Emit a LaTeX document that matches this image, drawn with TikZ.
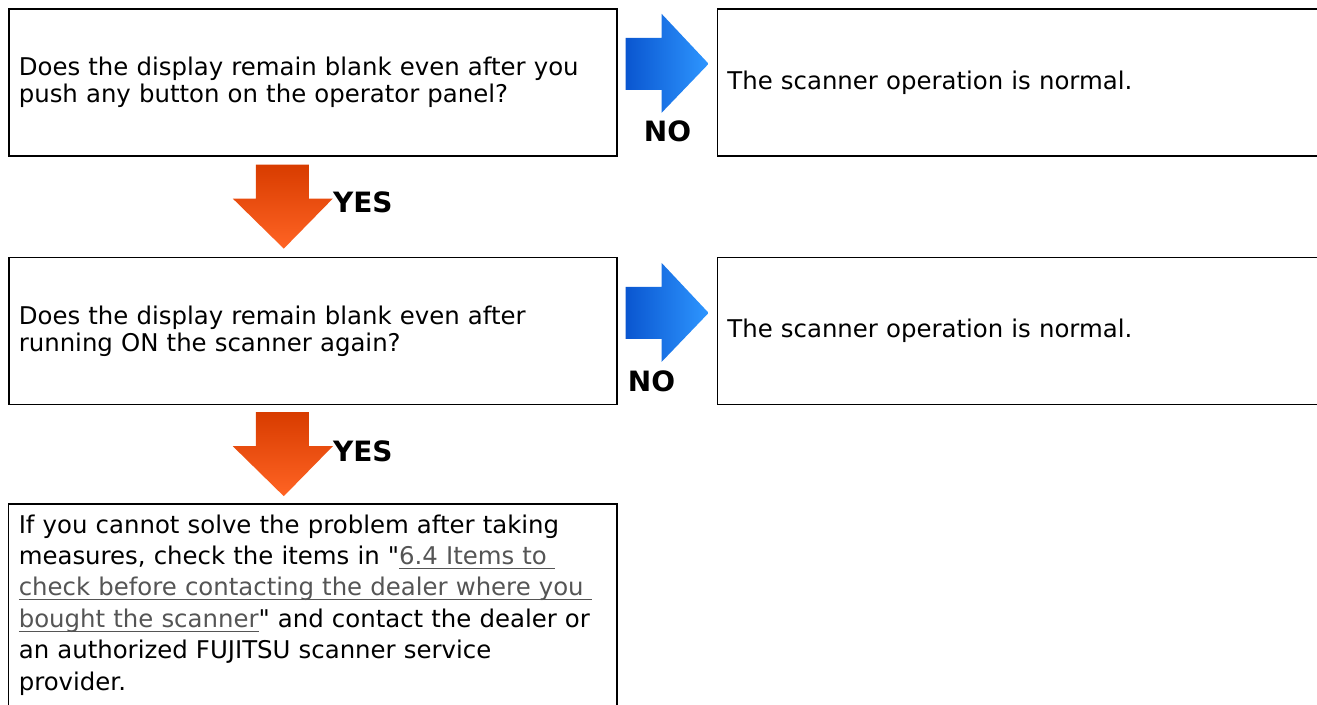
\documentclass[tikz,border=0pt]{standalone}
\usepackage{fontspec}
\setmainfont{DejaVu Sans}
\usetikzlibrary{positioning}

\definecolor{linkgray}{HTML}{555555}
\definecolor{nodark}{HTML}{0A56D0}
\definecolor{nolight}{HTML}{2E96FF}
\definecolor{yesdark}{HTML}{D83C00}
\definecolor{yeslight}{HTML}{FF6424}

% underlined link text
\newsavebox{\lnkbox}
\newcommand{\lnk}[1]{\textcolor{linkgray}{\sbox{\lnkbox}{#1}%
  \rlap{\rule[-2.2pt]{\wd\lnkbox}{0.6pt}}\usebox{\lnkbox}}}

\tikzset{
  boxline/.style={line width=0.8pt},
  qbox/.style={boxline, draw, minimum width=304pt, minimum height=73.5pt,
    text width=294pt, inner xsep=5pt, align=left,
    font=\fontsize{12.2}{13.5}\selectfont},
  fixbox/.style={text width=294pt, inner xsep=5pt, inner ysep=5pt, align=left,
    font=\fontsize{12.2}{15.7}\selectfont},
  answer/.style={font=\fontsize{14}{16}\selectfont\bfseries},
  % block arrows, origin at the tail
  noarrow/.pic={
    \shade[left color=nodark, right color=nolight]
      (0,-26) -- (36,-26) -- (36,-50) -- (83,0) -- (36,49) -- (36,26) -- (0,26) -- cycle;
  },
  yesarrow/.pic={
    \shade[top color=yesdark, bottom color=yeslight]
      (-28,0) -- (25,0) -- (25,34) -- (49,34) -- (0,84) -- (-51,34) -- (-28,34) -- cycle;
  }
}

\begin{document}
\begin{tikzpicture}[x=0.5pt, y=-0.5pt]
  \useasboundingbox (0,0) rectangle (1317,705);

  % questions and answers
  \node[qbox, anchor=north west] (q1) at (8,8)
    {Does the display remain blank even after you\\push any button on the operator panel?};
  \node[qbox, right=49.5pt of q1] (ok1) {The scanner operation is normal.};
  \node[qbox, below=50pt of q1] (q2)
    {Does the display remain blank even after\\running ON the scanner again?};
  \node[qbox, right=49.5pt of q2] (ok2) {The scanner operation is normal.};
  \node[fixbox, below=49.5pt of q2] (fix)
    {If you cannot solve the problem after taking\\
     measures, check the items in \textquotedbl\lnk{6.4 Items to\ }\\
     \lnk{check before contacting the dealer where you\ }\\
     \lnk{bought the scanner}\textquotedbl{} and contact the dealer or\\
     an authorized FUJITSU scanner service\\
     provider.};
  \draw[boxline] ([yshift=-120pt]fix.north west) |- (fix.north east) -- ++(0,-120pt);

  % NO arrows
  \pic at ([shift={(8,-18.5)}]q1.east) {noarrow};
  \node[answer] (no1) at ([shift={(50,49.5)}]q1.east) {NO};
  \pic at ([shift={(8,-18)}]q2.east) {noarrow};
  \node[answer] (no2) at ([shift={(34,50)}]q2.east) {NO};

  % YES arrows
  \pic at ([shift={(-29,8)}]q1.south) {yesarrow};
  \node[answer] (yes1) at ([shift={(50,46)}]q1.south) {YES};
  \pic at ([shift={(-29,7)}]q2.south) {yesarrow};
  \node[answer] (yes2) at ([shift={(50,46)}]q2.south) {YES};
\end{tikzpicture}
\end{document}
